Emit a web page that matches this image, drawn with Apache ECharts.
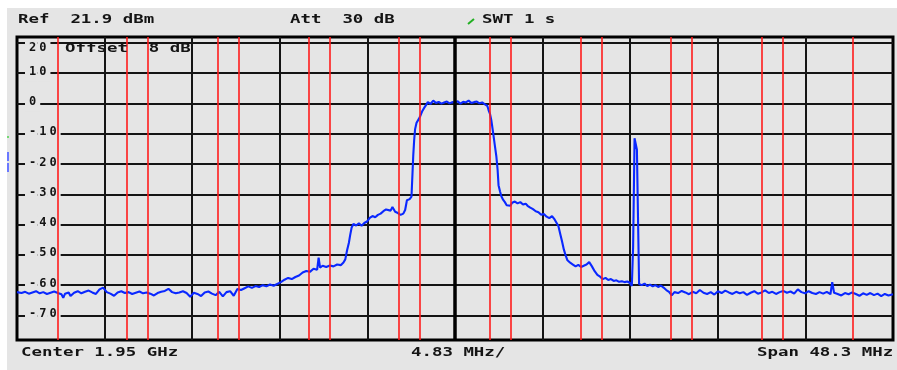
<!DOCTYPE html>
<html><head><meta charset="utf-8">
<script src="https://cdn.jsdelivr.net/npm/echarts@6/dist/echarts.min.js"></script>
<style>html,body{margin:0;padding:0;background:#fff;}#c{width:897px;height:370px;}</style>
</head><body><div id="c"></div>
<script>
// ---- data ----
const refLevelDbm = 21.9;
const bottomLevelDbm = -78.1;
const spanStartMHz = -24.15;   // offset from centre 1.95 GHz
const spanEndMHz = 24.15;
const levelTicks = [20, 10, 0, -10, -20, -30, -40, -50, -60, -70];
const freqGridMHz = [-19.32, -14.49, -9.66, -4.83, 0, 4.83, 9.66, 14.49, 19.32];
const centreLineMHz = [0];
const channelEdgesMHz = [-21.92, -18.08, -16.92, -13.08, -11.92, -8.08, -6.92, -3.08, -1.92,
                          1.92, 3.08, 6.92, 8.08, 11.92, 13.08, 16.92, 18.08, 21.92];
const traceMHz = [
 -24.15,-23.9,-23.7,-23.5,-23.3,-23.1,-22.9,-22.7,-22.5,-22.3,-22.1,-21.9,-21.7,-21.6,-21.5,-21.3,-21.2,-21.0,
 -20.8,-20.6,-20.4,-20.2,-20.0,-19.8,-19.6,-19.4,-19.2,-19.0,-18.8,-18.6,-18.4,-18.2,-18.0,-17.8,-17.6,-17.4,
 -17.2,-17.0,-16.8,-16.6,-16.4,-16.2,-16.0,-15.8,-15.6,-15.4,-15.2,-15.0,-14.8,-14.6,-14.4,-14.2,-14.0,-13.8,
 -13.6,-13.4,-13.2,-13.0,-12.8,-12.6,-12.4,-12.2,-12.0,
 -11.8,-11.6,-11.4,-11.2,-11.0,-10.8,-10.6,-10.4,-10.2,-10.0,-9.8,-9.6,-9.4,-9.2,-9.0,-8.8,-8.6,-8.4,-8.2,-8.0,
 -7.8,-7.6,-7.52,-7.44,-7.3,-7.1,-6.9,-6.7,-6.5,-6.3,-6.15,-6.05,-5.95,-5.85,-5.78,-5.7,-5.6,-5.45,-5.3,-5.15,
 -5.0,-4.85,-4.7,-4.55,-4.4,-4.25,-4.1,-3.95,-3.8,-3.7,-3.55,-3.45,-3.3,-3.15,-3.0,-2.85,-2.75,-2.65,-2.5,-2.4,
 -2.35,-2.3,-2.25,-2.2,-2.12,-2.0,-1.9,-1.8,-1.7,-1.6,
 -1.5,-1.35,-1.2,-1.05,-0.9,-0.75,-0.6,-0.45,-0.3,-0.15,0.0,0.15,0.3,0.45,0.6,0.75,0.9,1.05,1.2,1.35,1.5,1.65,
 1.78,1.85,1.93,2.0,2.05,2.12,2.2,2.28,2.35,2.4,2.48,2.55,2.65,2.75,2.85,2.95,3.05,3.15,3.3,3.45,3.6,3.75,3.9,
 4.0,4.15,4.3,4.45,4.6,4.75,4.9,5.05,5.2,5.35,5.5,5.6,5.7,5.8,5.9,6.0,6.1,6.2,6.35,6.5,6.65,6.8,6.95,7.1,7.25,
 7.4,7.55,7.7,7.85,8.0,8.15,8.3,8.45,8.6,8.75,8.9,9.05,9.2,9.35,9.5,9.65,9.75,9.82,9.9,9.97,10.03,10.09,10.15,
 10.3,10.45,10.6,10.75,10.9,11.05,11.2,11.35,11.5,11.65,11.8,11.95,12.1,12.3,12.5,12.7,12.9,13.1,13.3,13.5,
 13.7,13.9,14.1,14.3,14.5,14.7,14.9,15.1,15.3,15.5,15.7,15.9,16.1,16.3,16.5,16.7,16.9,17.1,17.3,17.5,17.7,17.9,
 18.1,18.3,18.5,18.7,18.9,19.1,19.3,19.5,19.7,19.9,20.1,20.3,20.5,20.7,20.8,20.9,21.1,21.3,21.5,21.7,21.9,22.1,
 22.3,22.5,22.7,22.9,23.1,23.3,23.5,23.7,23.9,24.15
];
const traceDbm = [
 -62.3,-62.6,-62.2,-62.8,-62.4,-62.0,-62.7,-62.3,-62.9,-62.5,-62.1,-62.6,-63.0,-64.2,-62.8,-62.4,-63.6,-62.5,
 -62.0,-62.7,-62.2,-61.8,-62.4,-62.9,-61.4,-60.8,-62.3,-62.8,-63.5,-62.4,-62.0,-62.6,-62.3,-62.9,-62.5,-62.1,
 -62.7,-62.4,-62.8,-63.4,-62.6,-62.2,-61.9,-61.2,-62.3,-62.7,-62.4,-62.0,-62.6,-63.8,-62.5,-62.9,-63.6,-62.4,
 -62.1,-62.8,-63.3,-62.2,-63.7,-62.3,-62.0,-63.5,-61.3,
 -61.6,-61.0,-60.4,-60.9,-60.3,-60.6,-60.0,-60.4,-59.8,-60.2,-59.6,-59.0,-58.2,-57.6,-58.0,-57.3,-56.8,-55.8,-55.3,-55.6,
 -54.6,-54.9,-50.9,-54.2,-53.6,-54.0,-53.5,-53.8,-53.2,-53.4,-52.5,-51.5,-48.5,-46.0,-43.5,-41.0,-39.8,-40.3,-39.6,-40.4,
 -39.5,-39.0,-37.8,-37.2,-37.6,-36.8,-36.4,-35.6,-35.0,-34.6,-35.4,-34.2,-35.8,-36.2,-36.8,-36.4,-35.2,-32.0,-31.6,-30.8,
 -24.0,-17.0,-12.0,-8.5,-6.4,-5.2,-4.0,-2.5,-1.5,-0.6,
 0.4,-0.2,0.9,0.1,0.5,-0.1,0.3,0.6,0.0,0.4,0.2,0.7,-0.1,0.5,0.3,0.9,0.1,0.4,0.6,0.0,0.3,-0.3,
 -0.8,-2.2,-3.5,-5.5,-7.5,-10.5,-14.0,-17.5,-22.0,-27.0,-29.0,-30.6,-31.8,-32.6,-33.6,-33.0,-33.8,-32.8,-32.4,-33.0,-32.6,-33.4,-33.1,
 -33.8,-34.4,-34.9,-35.6,-35.9,-36.8,-36.5,-37.4,-37.9,-37.2,-38.4,-39.0,-40.5,-43.0,-45.5,-48.2,-50.2,-51.8,-52.6,-53.2,-53.8,-53.3,-54.0,-53.6,-53.2,
 -52.4,-53.8,-55.4,-56.6,-57.2,-58.0,-57.6,-58.3,-58.0,-58.6,-58.4,-58.9,-58.7,-59.0,-58.8,-59.3,-60.3,-47.6,-11.5,-11.5,-15.3,-15.3,-59.6,
 -60.0,-59.5,-60.3,-59.8,-60.4,-60.0,-60.6,-60.1,-60.8,-61.6,-62.2,-63.4,-62.3,-62.6,-61.9,-62.4,-63.0,-62.2,-62.7,-61.6,
 -62.5,-62.9,-62.3,-63.1,-62.0,-62.6,-61.8,-62.4,-62.9,-62.2,-62.7,-62.3,-63.2,-62.5,-62.0,-62.8,-62.4,-61.7,-62.6,-62.2,-62.9,-62.3,
 -61.9,-62.5,-62.1,-62.8,-61.4,-62.3,-62.7,-62.0,-62.6,-62.9,-62.3,-62.8,-62.2,-63.0,-59.0,-62.5,-62.9,-63.4,-62.6,-63.0,-62.4,-62.9,
 -63.5,-62.7,-63.2,-62.6,-63.3,-62.8,-63.6,-62.9,-63.4,-63.0
];
const headerTexts = ['Ref  21.9 dBm', 'Att  30 dB', 'SWT 1 s'];
const overlayText = 'Offset  8 dB';
const footerTexts = ['Center 1.95 GHz', '4.83 MHz/', 'Span 48.3 MHz'];

// ---- chart ----
const FONT = '"DejaVu Sans Mono", "Liberation Mono", monospace';
const PANEL = '#e5e5e5';
const INK = '#141414';
const tracePoints = traceMHz.map((f, i) => [f, traceDbm[i]]);

function spacedLabel(v) {
  const chars = String(v).split('');
  const toks = chars.map((ch, i) => {
    let st = 'b';
    if (chars.length === 1) st = 'o';
    else if (i === 0) st = 'a';
    else if (i === chars.length - 1) st = 'c';
    return '{' + st + '|' + ch + '}';
  }).join('');
  return v === levelTicks[0] ? '{g|\u00a0}\n' + toks : toks;
}
const tok = (pad) => ({ fontFamily: FONT, fontWeight: 'bold', fontSize: 12, color: INK,
  backgroundColor: PANEL, padding: pad });

function txt(s, x, y) {
  return { type: 'text', x: x, y: y, scaleX: 1.45, z: 20,
    style: { text: s, fontFamily: FONT, fontWeight: 'bold', fontSize: 12, fill: INK, verticalAlign: 'middle' } };
}

const chart = echarts.init(document.getElementById('c'), null, { renderer: 'canvas' });
chart.setOption({
  animation: false,
  backgroundColor: '#ffffff',
  grid: { left: 17, right: 4, top: 37, bottom: 30, show: true, backgroundColor: PANEL,
          borderColor: '#000', borderWidth: 3, containLabel: false },
  xAxis: {
    type: 'value', min: spanStartMHz, max: spanEndMHz,
    axisLine: { show: false }, axisLabel: { show: false },
    axisTick: { show: false, customValues: freqGridMHz },
    splitLine: { show: true, lineStyle: { color: INK, width: 2 } }
  },
  yAxis: {
    type: 'value', min: bottomLevelDbm, max: refLevelDbm,
    axisLine: { show: false },
    axisTick: { show: false, customValues: levelTicks },
    splitLine: { show: true, lineStyle: { color: INK, width: 2 } },
    axisLabel: {
      inside: true, margin: 8, customValues: levelTicks,
      formatter: spacedLabel,
      rich: {
        g: { fontSize: 12, lineHeight: 14, fontFamily: FONT },
        a: tok([1, 1.5, 4, 4]),
        b: tok([1, 1.5, 4, 1.5]),
        c: tok([1, 4, 4, 1.5]),
        o: tok([1, 4, 4, 4])
      }
    }
  },
  graphic: [
    { type: 'rect', z: -10, shape: { x: 7, y: 8, width: 890, height: 362 }, style: { fill: PANEL } },
    { type: 'rect', z: 20, shape: { x: 7, y: 136, width: 2, height: 2 }, style: { fill: '#74d874' } },
    { type: 'rect', z: 20, shape: { x: 7, y: 152, width: 2, height: 9 }, style: { fill: '#6a78ff' } },
    { type: 'rect', z: 20, shape: { x: 7, y: 163, width: 2, height: 9 }, style: { fill: '#6a78ff' } },
    { type: 'line', z: 20, shape: { x1: 468, y1: 24, x2: 474, y2: 19 }, style: { stroke: '#22b022', lineWidth: 2 } },
    txt(headerTexts[0], 18, 20),
    txt(headerTexts[1], 290, 20),
    txt(headerTexts[2], 482, 20),
    txt(overlayText, 65, 49),
    txt(footerTexts[0], 21, 353),
    txt(footerTexts[1], 411, 353),
    txt(footerTexts[2], 757, 353)
  ],
  series: [
    { type: 'line', data: [], z: 2, silent: true,
      markLine: { silent: true, symbol: ['none', 'none'], label: { show: false },
        lineStyle: { color: '#000', width: 3.5, type: 'solid' },
        data: centreLineMHz.map(v => ({ xAxis: v })) } },
    { type: 'line', data: [], z: 3, silent: true,
      markLine: { silent: true, symbol: ['none', 'none'], label: { show: false },
        lineStyle: { color: '#ff1c1c', width: 1.6, type: 'solid' },
        data: channelEdgesMHz.map(v => ({ xAxis: v })) } },
    { type: 'line', data: tracePoints, z: 4, showSymbol: false, silent: true,
      lineStyle: { color: '#0a28ff', width: 2.1 } }
  ]
});
</script></body></html>
